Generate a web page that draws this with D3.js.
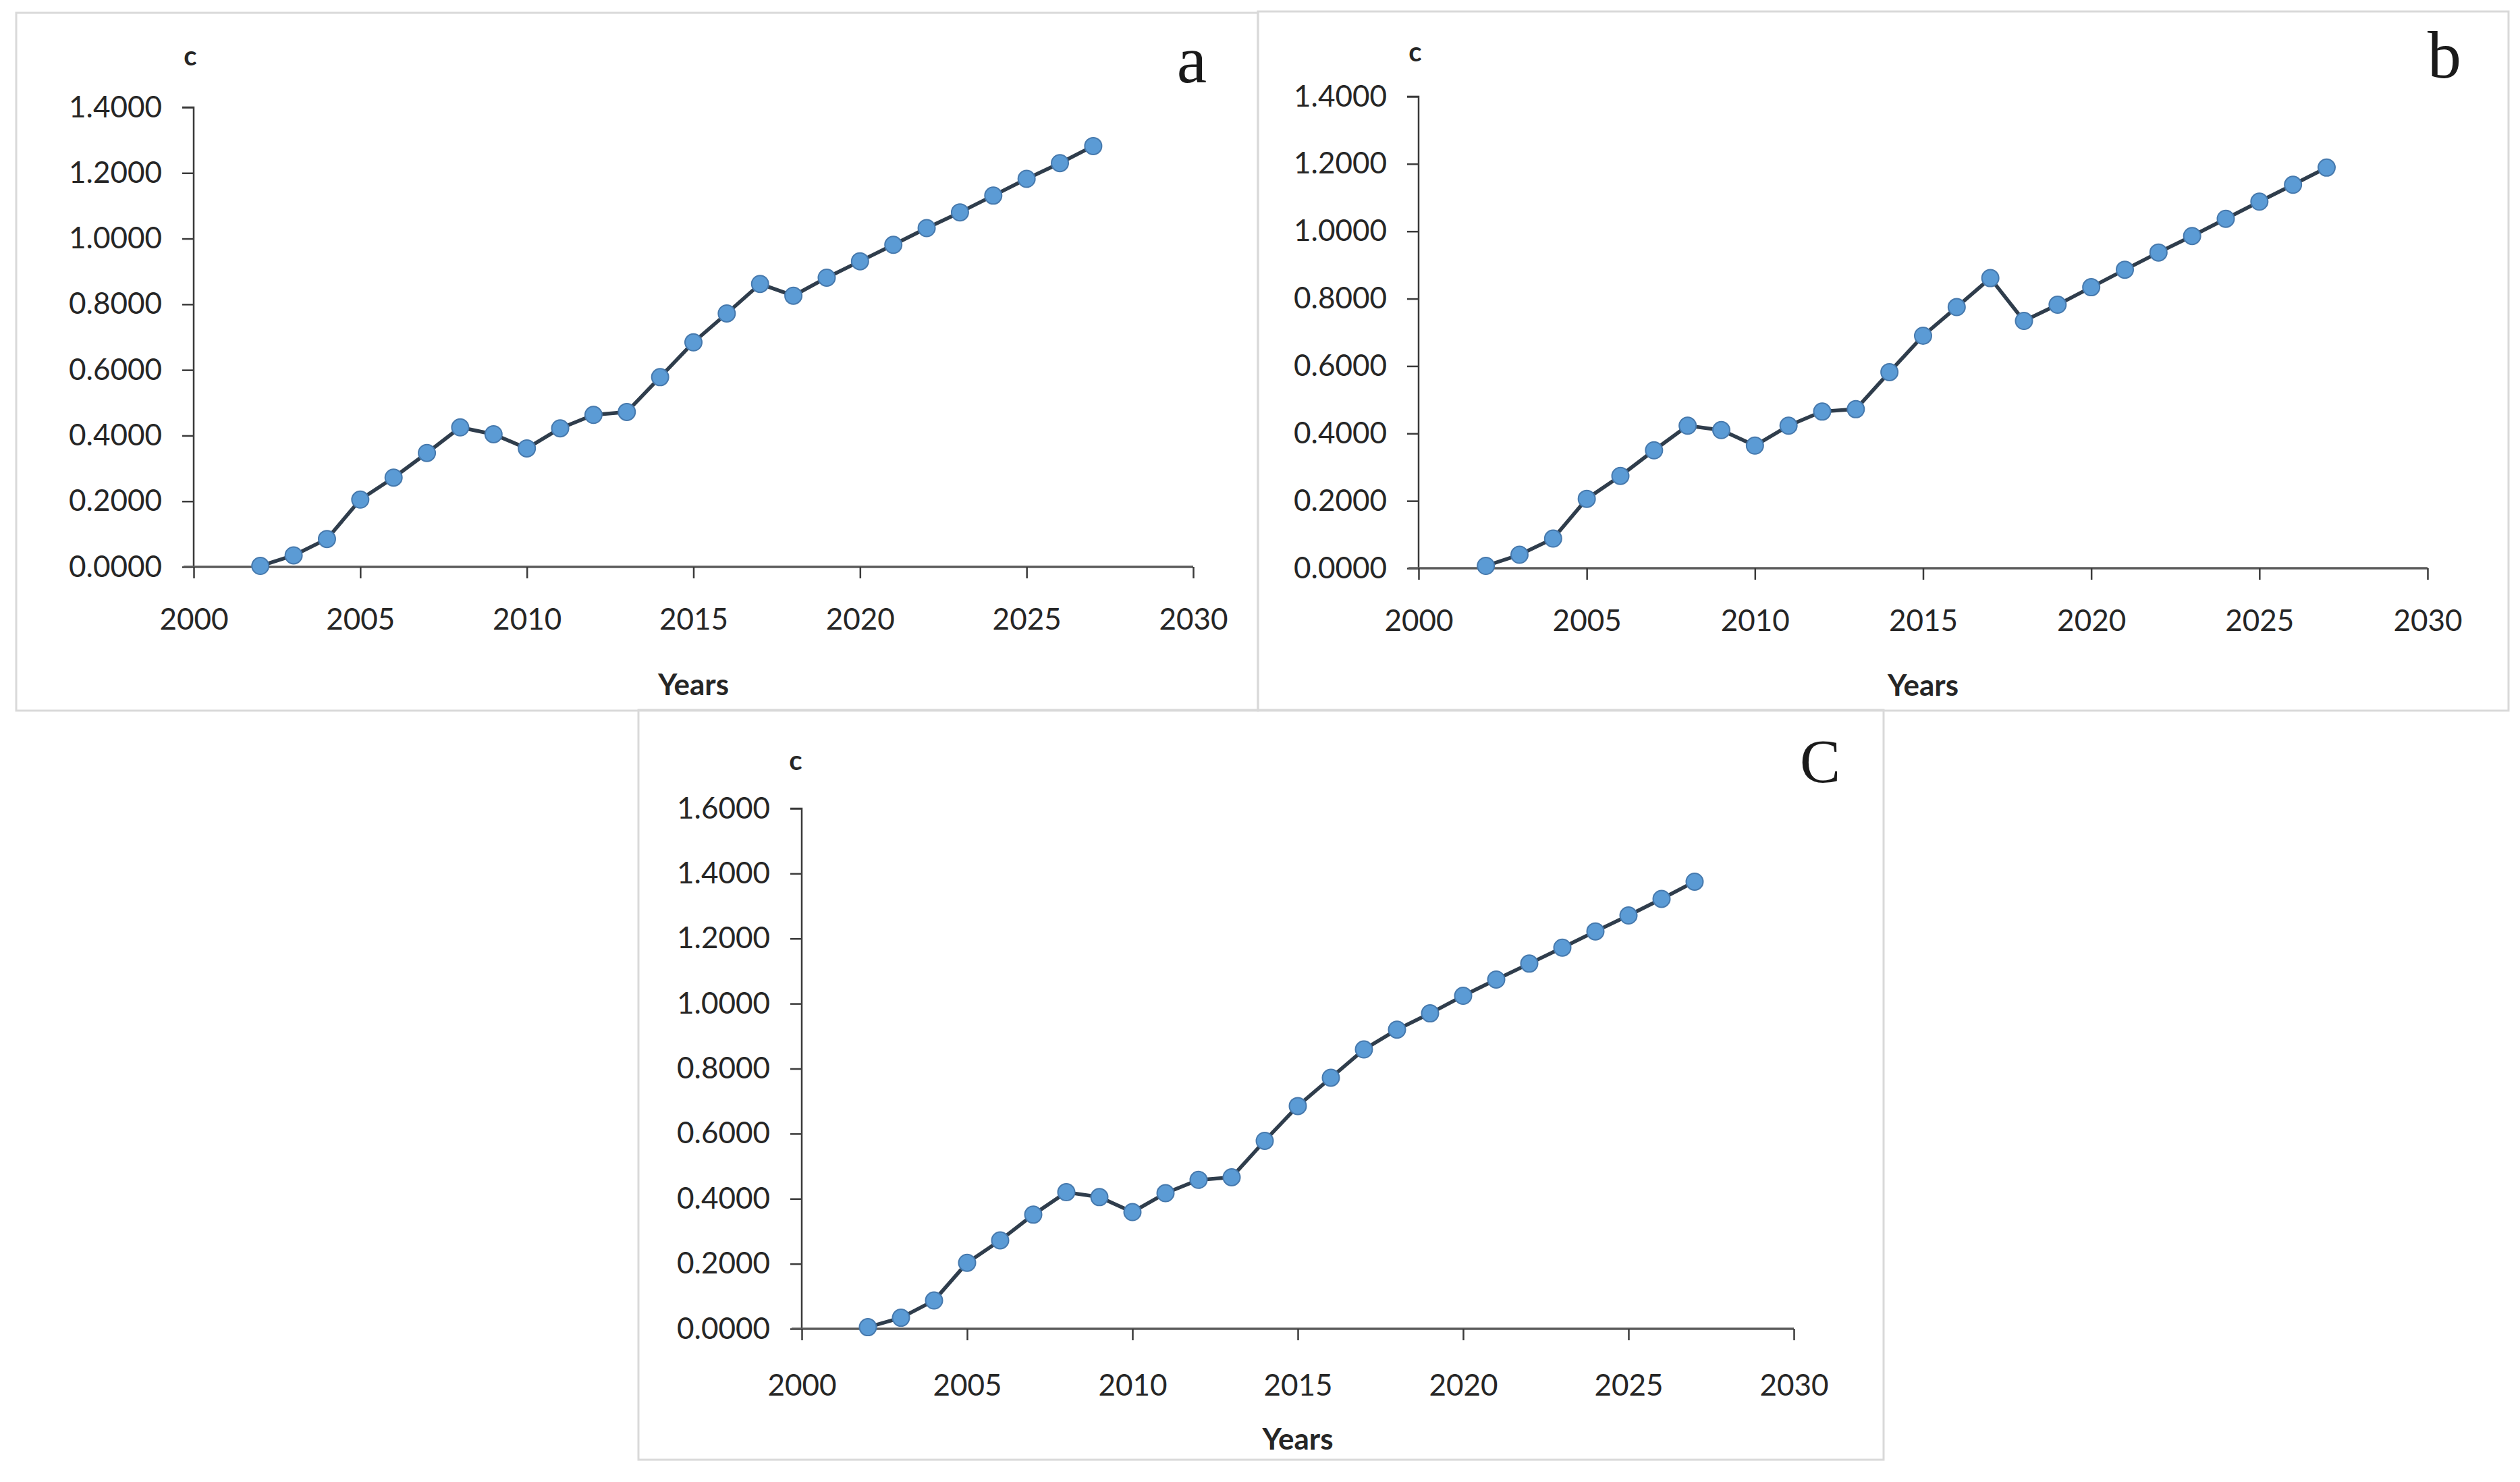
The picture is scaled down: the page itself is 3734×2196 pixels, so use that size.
<!DOCTYPE html>
<html>
<head>
<meta charset="utf-8">
<script src="https://cdn.jsdelivr.net/npm/d3@7"></script>
<style>
  html, body { margin: 0; padding: 0; background: #ffffff; }
  svg { display: block; }
</style>
</head>
<body>
<script>
// ---------------- DATA ----------------
const years = [2002, 2003, 2004, 2005, 2006, 2007, 2008, 2009, 2010, 2011, 2012, 2013, 2014,
               2015, 2016, 2017, 2018, 2019, 2020, 2021, 2022, 2023, 2024, 2025, 2026, 2027];

const seriesA = [0.003, 0.035, 0.085, 0.205, 0.272, 0.347, 0.425, 0.404, 0.361, 0.422, 0.463, 0.472, 0.578,
                 0.684, 0.772, 0.862, 0.826, 0.881, 0.931, 0.981, 1.032, 1.080, 1.131, 1.182, 1.230, 1.282];

const seriesB = [0.007, 0.040, 0.088, 0.206, 0.274, 0.350, 0.423, 0.410, 0.364, 0.423, 0.465, 0.472, 0.582,
                 0.690, 0.775, 0.861, 0.734, 0.782, 0.834, 0.886, 0.937, 0.986, 1.037, 1.088, 1.138, 1.189];

const seriesC = [0.005, 0.034, 0.087, 0.203, 0.272, 0.351, 0.420, 0.405, 0.359, 0.417, 0.458, 0.466, 0.578,
                 0.685, 0.772, 0.859, 0.920, 0.970, 1.024, 1.074, 1.123, 1.172, 1.222, 1.271, 1.322, 1.375];

const xTicks = [2000, 2005, 2010, 2015, 2020, 2025, 2030];
const yTicksAB = [0, 0.2, 0.4, 0.6, 0.8, 1.0, 1.2, 1.4];
const yTicksC = [0, 0.2, 0.4, 0.6, 0.8, 1.0, 1.2, 1.4, 1.6];

const panelLetters = ["a", "b", "C"];
const yAxisTitle = "c";
const xAxisTitle = "Years";

// ---------------- LAYOUT ----------------
const W = 3734, H = 2196;
const svg = d3.select("body").append("svg")
  .attr("width", W).attr("height", H)
  .attr("viewBox", `0 0 ${W} ${H}`);
svg.append("rect").attr("width", W).attr("height", H).attr("fill", "#ffffff");

const panels = [
  { box: [24, 19, 1864, 1053], x0: 287, x1: 1768, yTop: 159, yBot: 840,
    cLab: [282, 97], letter: [1766, 122, 100], yearsY: 1013, tickLabY: 916,
    series: seriesA, yTicks: yTicksAB, label: panelLetters[0] },
  { box: [1864, 17, 3717, 1053], x0: 2102, x1: 3597, yTop: 143, yBot: 842,
    cLab: [2097, 91], letter: [3622, 115, 100], yearsY: 1014, tickLabY: 918,
    series: seriesB, yTicks: yTicksAB, label: panelLetters[1] },
  { box: [946, 1052, 2791, 2163], x0: 1188, x1: 2658, yTop: 1198, yBot: 1969,
    cLab: [1179, 1141], letter: [2697, 1159, 90], yearsY: 2131, tickLabY: 2051,
    series: seriesC, yTicks: yTicksC, label: panelLetters[2] }
];

const FONT = "Lato, 'Open Sans', 'DejaVu Sans', sans-serif";
const TEXT = "#262626";

panels.forEach(p => {
  const g = svg.append("g");
  const [bx0, by0, bx1, by1] = p.box;

  // panel border
  g.append("rect")
    .attr("x", bx0).attr("y", by0)
    .attr("width", bx1 - bx0).attr("height", by1 - by0)
    .attr("fill", "none").attr("stroke", "#d9d9d9").attr("stroke-width", 3);

  const yMax = d3.max(p.yTicks);
  const x = d3.scaleLinear().domain([2000, 2030]).range([p.x0, p.x1]);
  const y = d3.scaleLinear().domain([0, yMax]).range([p.yBot, p.yTop]);

  // Y axis
  const yAxis = d3.axisLeft(y).tickValues(p.yTicks).tickFormat(d3.format(".4f"))
    .tickSize(17).tickPadding(30);
  const gy = g.append("g").attr("transform", `translate(${p.x0},0)`).call(yAxis);
  gy.select(".domain").attr("stroke", "#3a3a3a").attr("stroke-width", 2.5)
    .attr("d", `M-17,${p.yTop}H0V${p.yBot}`);
  gy.selectAll(".tick line").attr("stroke", "#3a3a3a").attr("stroke-width", 2.5);
  gy.selectAll(".tick text").attr("font-family", FONT).attr("font-size", 44)
    .attr("fill", TEXT);

  // X axis
  const xAxis = d3.axisBottom(x).tickValues(xTicks).tickFormat(d3.format("d"))
    .tickSize(17).tickPadding(0);
  const gx = g.append("g").attr("transform", `translate(0,${p.yBot})`).call(xAxis);
  gx.select(".domain").attr("stroke", "#5a5a5a").attr("stroke-width", 3.5)
    .attr("d", `M${p.x0 - 15},0H${p.x1}`);
  gx.selectAll(".tick line").attr("stroke", "#3a3a3a").attr("stroke-width", 2.5);
  gx.selectAll(".tick text").attr("font-family", FONT).attr("font-size", 44)
    .attr("fill", TEXT).attr("dy", null)
    .attr("y", p.tickLabY - p.yBot).attr("dominant-baseline", "central");

  // line
  const pts = years.map((yr, i) => [yr, p.series[i]]);
  g.append("path").datum(pts)
    .attr("fill", "none").attr("stroke", "#2f3d4c").attr("stroke-width", 5.5)
    .attr("stroke-linejoin", "round")
    .attr("d", d3.line().x(d => x(d[0])).y(d => y(d[1])));

  // markers
  g.selectAll("circle.pt").data(pts).enter().append("circle")
    .attr("class", "pt")
    .attr("cx", d => x(d[0])).attr("cy", d => y(d[1]))
    .attr("r", 12.5)
    .attr("fill", "#5b9bd5").attr("stroke", "#4679ad").attr("stroke-width", 2);

  // axis titles
  g.append("text").attr("x", p.cLab[0]).attr("y", p.cLab[1])
    .attr("text-anchor", "middle").attr("font-family", FONT)
    .attr("font-weight", "bold").attr("font-size", 40).attr("fill", TEXT)
    .text(yAxisTitle);

  g.append("text").attr("x", (p.x0 + p.x1) / 2).attr("y", p.yearsY)
    .attr("text-anchor", "middle").attr("dominant-baseline", "central")
    .attr("font-family", FONT).attr("font-weight", "bold").attr("font-size", 44)
    .attr("fill", TEXT).text(xAxisTitle);

  // panel letter
  g.append("text").attr("x", p.letter[0]).attr("y", p.letter[1])
    .attr("text-anchor", "middle")
    .attr("font-family", "'Liberation Serif', 'DejaVu Serif', serif")
    .attr("font-size", p.letter[2]).attr("fill", "#1a1a1a")
    .text(p.label);
});
</script>
</body>
</html>
